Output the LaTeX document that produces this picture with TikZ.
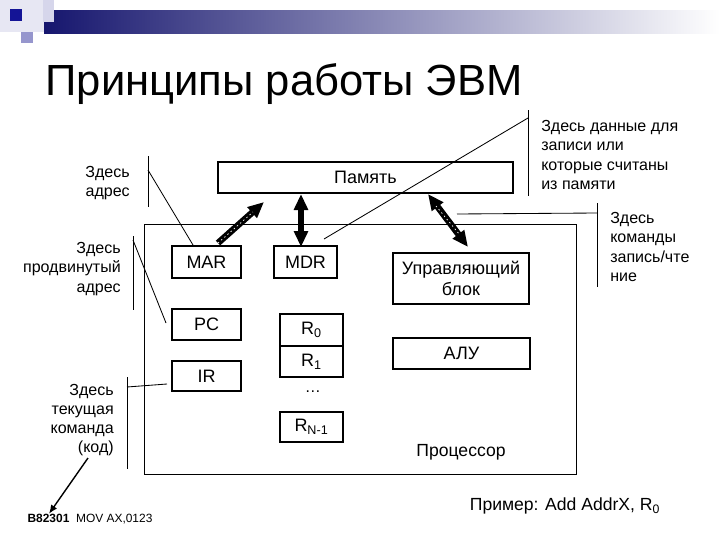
\documentclass[tikz,border=0pt]{standalone}
\usepackage{fontspec}
\setmainfont{Liberation Sans}
\usetikzlibrary{arrows.meta}
\definecolor{navybar}{RGB}{22,22,110}
\definecolor{darksq}{RGB}{20,20,150}
\definecolor{lavsq}{RGB}{150,150,205}
\definecolor{palesq}{RGB}{214,214,235}
\newcommand\unitfont{\fontsize{12.8}{14.5}\selectfont\lineskiplimit=-20pt\relax}
\newcommand\notefont{\fontsize{11.4}{13.7}\selectfont\lineskiplimit=-20pt\relax}

\begin{document}
\begin{tikzpicture}[
    x=0.25mm,
    y=-0.25mm,
    unit/.style={
      draw,
      line width=1.4pt,
      fill=white,
      align=center,
      inner sep=0pt,
      font=\unitfont
    },
    ctrlreg/.style={unit, minimum width=17.3mm, minimum height=7.8mm},
    reg/.style={unit, minimum width=15.8mm, minimum height=7.8mm},
    note/.style={font=\notefont, inner sep=0pt},
    lead/.style={line width=0.6pt},
    bus/.style={line width=1.6mm, -{Triangle[length=4mm,width=3.4mm]}},
    bibus/.style={line width=1.6mm, {Triangle[length=4mm,width=3.4mm]}-{Triangle[length=4mm,width=3.4mm]}},
    hatch/.style={white, line width=0.5pt, dash pattern=on 1pt off 2pt},
    ptr/.style={-{Latex[length=2.2mm,width=1.8mm]}, line width=1pt}
  ]
  \useasboundingbox (0,0) rectangle (720,540);

  % slide header
  \fill[palesq!60] (0,0) rectangle (44,32);
  \shade[left color=navybar, right color=white] (44,10) rectangle (720,33);
  \fill[palesq] (43,0) rectangle (54,22);
  \fill[darksq] (10,9) rectangle (22,21);
  \fill[lavsq] (21,32) rectangle (33,43);
  \node[font=\fontsize{31}{36}\selectfont, inner sep=0pt] (title) at (284,84) {Принципы работы ЭВМ};

  % blocks
  \node[unit, minimum width=73.8mm, minimum height=7.8mm] (mem) at (365.5,177.5) {Память};
  \draw[line width=0.7pt] (144,224) rectangle (576,474);
  \node[note, font=\fontsize{12.5}{14}\selectfont] (proc) at (461,452) {Процессор};

  \node[ctrlreg, minimum height=8mm] (mar) at (206.5,262) {MAR};
  \node[reg, minimum height=8mm] (mdr) at (305.5,262) {MDR};
  \node[ctrlreg] (pc) at (206.5,324.5) {PC};
  \node[ctrlreg, minimum height=7.5mm] (ir) at (206.5,376) {IR};

  \node[reg, minimum height=8mm] (r0) at (311.5,330) {R\textsubscript{0}};
  \node[reg] (r1) at (311.5,361.5) {R\textsubscript{1}};
  \node[note] (rdots) at (313,392) {\dots};
  \node[reg, minimum height=7.5mm] (rn) at (311.5,427) {R\textsubscript{N-1}};

  \node[unit, minimum width=34mm, minimum height=12.8mm] (cu) at (461,278.5) {Управляющий\\блок};
  \node[unit, minimum width=34.3mm, minimum height=7.8mm] (alu) at (461.5,353.5) {АЛУ};

  % buses to memory
  \coordinate (marTail) at (218,243);
  \coordinate (marTip) at (264,202);
  \coordinate (mdrTip) at (301,194);
  \coordinate (mdrTail) at (301,247);
  \coordinate (cuTip) at (428,194);
  \coordinate (cuTail) at (468,247);
  \draw[bus] (marTail) -- (marTip);
  \draw[hatch] (marTail) -- (253,212);
  \draw[bibus] (mdrTail) -- (mdrTip);
  \draw[bibus] (cuTail) -- (cuTip);
  \draw[hatch] (436,206) -- (460,235);

  % notes on the left
  \node[note, align=right, anchor=east] (nAddr) at (130,183) {Здесь\\адрес};
  \draw[lead] (148,156) -- (148,207);
  \coordinate (addrEnd) at (193,245);
  \draw[lead] (148,170) -- (addrEnd);

  \node[note, align=right, anchor=east] (nNext) at (121,269) {Здесь\\продвинутый\\адрес};
  \draw[lead] (133,236) -- (133,310);
  \coordinate (nextEnd) at (166,323);
  \draw[lead] (133,240) -- (nextEnd);

  \node[note, align=right, anchor=east] (nCur) at (114,420) {Здесь\\текущая\\команда\\(код)};
  \draw[lead] (127,377) -- (127,469);
  \coordinate (curEnd) at (167,384);
  \draw[lead] (127,387) -- (curEnd);

  \node[font=\fontsize{8.5}{10}\selectfont, inner sep=0pt] (code) at (90,519) {\textbf{B82301}\ \ MOV AX,0123};
  \draw[ptr] (88,458) -- (code.north west -| 49,0);

  % notes on the right
  \node[note, align=left, anchor=west] (nData) at (541,155) {Здесь данные для\\записи или\\которые считаны\\из памяти};
  \draw[lead] (528,110) -- (528,196);
  \coordinate (dataEnd) at (324,239);
  \draw[lead] (528,118) -- (dataEnd);

  \node[note, align=left, anchor=west] (nCmd) at (610,247) {Здесь\\команды\\запись/чте\\ние};
  \draw[lead] (597,203) -- (597,287);
  \coordinate (cmdEnd) at (457,214);
  \draw[lead] (597,213) -- (cmdEnd);

  \node[note, font=\fontsize{12.5}{14}\selectfont] (example) at (565,506) {Пример: Add AddrX, R\textsubscript{0}};
\end{tikzpicture}
\end{document}
